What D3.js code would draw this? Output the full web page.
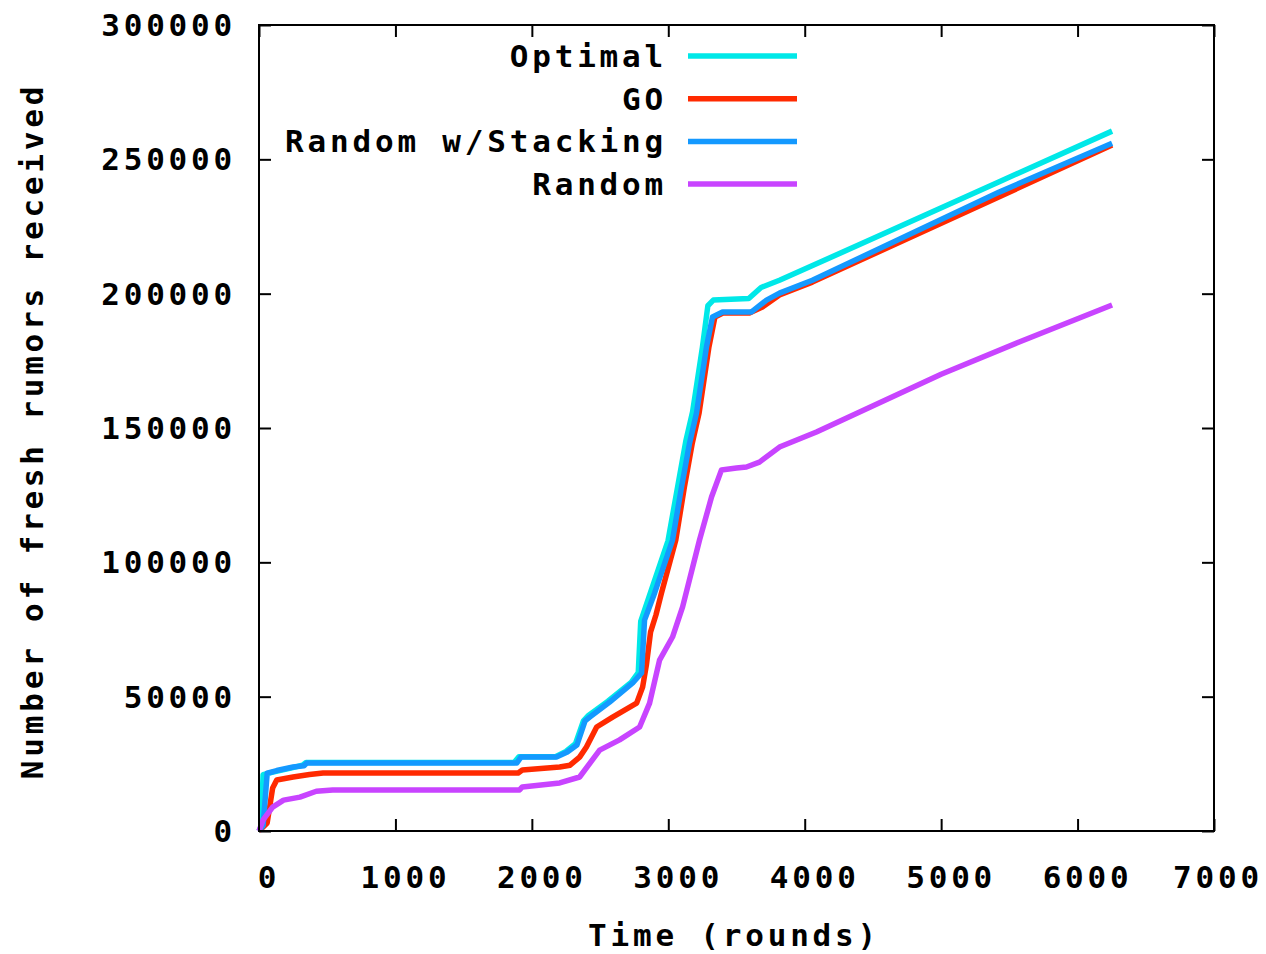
<!DOCTYPE html>
<html>
<head>
<meta charset="utf-8">
<script src="https://cdn.jsdelivr.net/npm/d3@7"></script>
<style>
  body { margin: 0; background: #fff; }
  text { font-family: "DejaVu Sans Mono", monospace; font-weight: bold; font-size: 31px; letter-spacing: 3.8px; fill: #000; }
</style>
</head>
<body>
<div id="chart"></div>
<script>
// series: [round, rumors]
var optimal = [[0,0],[15,1500],[30,21000],[110,22000],[240,23500],[320,24500],[345,25500],[1870,25500],[1905,27600],[2170,27600],[2250,29600],[2320,32500],[2378,41000],[2415,43000],[2558,48300],[2728,55300],[2780,59000],[2798,78000],[2868,88500],[2998,108000],[3068,128000],[3128,145000],[3178,156000],[3250,180000],[3290,195500],[3330,197600],[3590,198200],[3680,202300],[3815,205000],[4500,220500],[5426,241700],[6253,260500]];
var go = [[0,0],[60,3000],[100,16000],[130,19000],[250,20100],[370,21000],[470,21600],[1900,21600],[1930,22700],[2204,23800],[2280,24500],[2350,27500],[2400,31300],[2475,38700],[2592,42400],[2768,47600],[2812,53600],[2840,62000],[2870,74000],[2910,80500],[2950,88600],[3055,108300],[3118,128000],[3176,144400],[3226,155600],[3298,180200],[3342,191300],[3400,192800],[3595,192800],[3690,195000],[3815,199500],[4056,204300],[6253,255300]];
var stacking = [[0,0],[30,2000],[60,21500],[130,22500],[250,23800],[330,24300],[350,25300],[1890,25300],[1920,27500],[2180,27500],[2260,29400],[2330,32000],[2390,41000],[2424,42400],[2570,48000],[2739,55100],[2804,58800],[2826,78500],[2900,88600],[3031,108300],[3097,128000],[3156,144400],[3207,155600],[3280,180200],[3324,191300],[3398,193200],[3610,193200],[3720,197600],[3815,200200],[4056,205000],[5426,237800],[6253,256000]];
var random = [[0,0],[30,4100],[100,8900],[180,11500],[300,12600],[420,14800],[540,15300],[1910,15300],[1930,16400],[2204,17900],[2350,20100],[2497,30100],[2643,33900],[2790,38700],[2863,47600],[2936,63600],[3031,72200],[3105,83400],[3229,108300],[3317,124300],[3390,134400],[3500,135100],[3573,135500],[3668,137300],[3815,142900],[4086,148500],[5000,170000],[5572,182000],[6253,195800]];

var seriesNames = ["Optimal", "GO", "Random w/Stacking", "Random"];
var seriesColors = ["#00e8e8", "#ff2a00", "#1499ff", "#c844ff"];
var xTicks = [0, 1000, 2000, 3000, 4000, 5000, 6000, 7000];
var yTicks = [0, 50000, 100000, 150000, 200000, 250000, 300000];

function drawChart() {
    var w = 1266;
    var h = 954;
    var left = 259, right = 1214, top = 25, bottom = 831;

    var svg = d3.select("#chart")
        .append("svg")
        .attr("width", w)
        .attr("height", h);

    var x = d3.scaleLinear().domain([0, 7000]).range([left, right]);
    var y = d3.scaleLinear().domain([0, 300000]).range([bottom, top]);

    // mirrored inward ticks, gnuplot style
    svg.append("g")
        .attr("transform", "translate(0," + bottom + ")")
        .call(d3.axisBottom(x).tickValues(xTicks).tickSize(-12).tickFormat(""));
    svg.append("g")
        .attr("transform", "translate(0," + top + ")")
        .call(d3.axisTop(x).tickValues(xTicks).tickSize(-12).tickFormat(""));
    svg.append("g")
        .attr("transform", "translate(" + left + ",0)")
        .call(d3.axisLeft(y).tickValues(yTicks).tickSize(-12).tickFormat(""));
    svg.append("g")
        .attr("transform", "translate(" + right + ",0)")
        .call(d3.axisRight(y).tickValues(yTicks).tickSize(-12).tickFormat(""));
    svg.selectAll(".domain").remove();
    svg.selectAll(".tick line").attr("stroke", "#000").attr("stroke-width", 2);

    svg.selectAll(".xlab")
        .data(xTicks)
        .enter()
        .append("text")
        .attr("x", function(d) { return Math.min(x(d) + 10, 1218); })
        .attr("y", 888)
        .attr("text-anchor", "middle")
        .text(function(d) { return d; });

    svg.selectAll(".ylab")
        .data(yTicks)
        .enter()
        .append("text")
        .attr("x", 236)
        .attr("y", function(d) { return y(d) + 11; })
        .attr("text-anchor", "end")
        .text(function(d) { return d; });

    svg.append("text")
        .attr("x", 734)
        .attr("y", 946)
        .attr("text-anchor", "middle")
        .text("Time (rounds)");

    svg.append("text")
        .attr("transform", "translate(43,431) rotate(-90)")
        .attr("text-anchor", "middle")
        .text("Number of fresh rumors received");

    var line = d3.line()
        .x(function(d) { return x(d[0]); })
        .y(function(d) { return y(d[1]); });

    var data = [optimal, go, stacking, random];
    svg.selectAll(".series")
        .data(data)
        .enter()
        .append("path")
        .attr("d", line)
        .attr("fill", "none")
        .attr("stroke", function(d, i) { return seriesColors[i]; })
        .attr("stroke-width", 5.5)
        .attr("stroke-linejoin", "round");

    // legend
    var legend = svg.selectAll(".legend")
        .data(seriesNames)
        .enter()
        .append("g")
        .attr("transform", function(d, i) { return "translate(0," + (56 + i * 42.7) + ")"; });
    legend.append("text")
        .attr("x", 667)
        .attr("y", 11)
        .attr("text-anchor", "end")
        .text(function(d) { return d; });
    legend.append("line")
        .attr("x1", 688)
        .attr("x2", 797)
        .attr("stroke", function(d, i) { return seriesColors[i]; })
        .attr("stroke-width", 5.5);

    svg.append("rect")
        .attr("x", left)
        .attr("y", top)
        .attr("width", right - left)
        .attr("height", bottom - top)
        .attr("fill", "none")
        .attr("stroke", "#000")
        .attr("stroke-width", 2);
}

drawChart();
</script>
</body>
</html>
